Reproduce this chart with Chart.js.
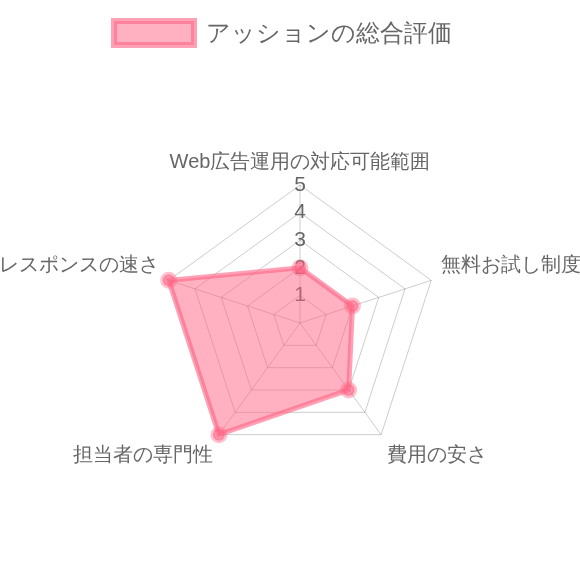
<!DOCTYPE html>
<html lang="ja">
<head>
<meta charset="utf-8">
<script src="https://cdn.jsdelivr.net/npm/chart.js@4/dist/chart.umd.min.js"></script>
<style>
  html, body { margin: 0; padding: 0; background: #fff; overflow: hidden; }
  #wrap { width: 580px; height: 598px; position: relative; }
  #legend { position: absolute; left: 111px; top: 17px; display: flex; align-items: center; margin: 0; padding: 0; list-style: none;
            font-family: 'Helvetica Neue', Helvetica, Arial, sans-serif; font-size: 24px; color: #666; }
  #legend .box { width: 74px; height: 18px; border: 3px solid rgb(255, 130, 156); outline: 3px solid rgb(255, 161, 181); margin: 3px; }
  #legend .text { margin-left: 9px; line-height: 30px; padding-top: 1px; }
</style>
</head>
<body>
<div id="wrap"><ul id="legend"></ul><canvas id="radar"></canvas></div>
<script>
const categories = ['Web広告運用の対応可能範囲', '無料お試し制度', '費用の安さ', '担当者の専門性', 'レスポンスの速さ'];
const seriesLabel = 'アッションの総合評価';
const scores = [2, 2, 3, 5, 5];
const tickValues = [1, 2, 3, 4, 5];

// legend as html so it does not take space from the radar
const htmlLegend = {
    id: 'htmlLegend',
    afterUpdate(chart) {
        const list = document.getElementById('legend');
        list.innerHTML = '';
        chart.options.plugins.legend.labels.generateLabels(chart).forEach(item => {
            const li = document.createElement('li');
            li.style.display = 'flex';
            li.style.alignItems = 'center';
            const box = document.createElement('span');
            box.className = 'box';
            box.style.background = item.fillStyle;
            const text = document.createElement('span');
            text.className = 'text';
            text.textContent = item.text;
            li.append(box, text);
            list.appendChild(li);
        });
    }
};

new Chart(document.getElementById('radar'), {
    type: 'radar',
    data: {
        labels: categories,
        datasets: [{
            label: seriesLabel,
            data: scores,
            backgroundColor: 'rgba(255, 99, 132, 0.5)',
            borderColor: 'rgba(255, 99, 132, 0.6)',
            borderWidth: 5,
            pointBackgroundColor: 'rgba(255, 99, 132, 0.6)',
            pointBorderColor: 'rgba(255, 99, 132, 0.4)',
            pointRadius: 6,
            fill: true
        }]
    },
    options: {
        responsive: true,
        maintainAspectRatio: false,
        animation: false,
        layout: { padding: { top: 25 } },
        plugins: { legend: { display: false } },
        scales: {
            r: {
                min: 0,
                max: tickValues[tickValues.length - 1],
                ticks: {
                    stepSize: 1,
                    showLabelBackdrop: false,
                    backdropPadding: 0,
                    color: '#666',
                    font: { size: 21 },
                    callback: v => tickValues.includes(v) ? v : ''
                },
                pointLabels: { font: { size: 20 }, color: '#666', padding: 0 },
                grid: { color: 'rgba(0, 0, 0, 0.2)' },
                angleLines: { color: 'rgba(0, 0, 0, 0.2)' }
            }
        }
    },
    plugins: [htmlLegend]
});
</script>
</body>
</html>
